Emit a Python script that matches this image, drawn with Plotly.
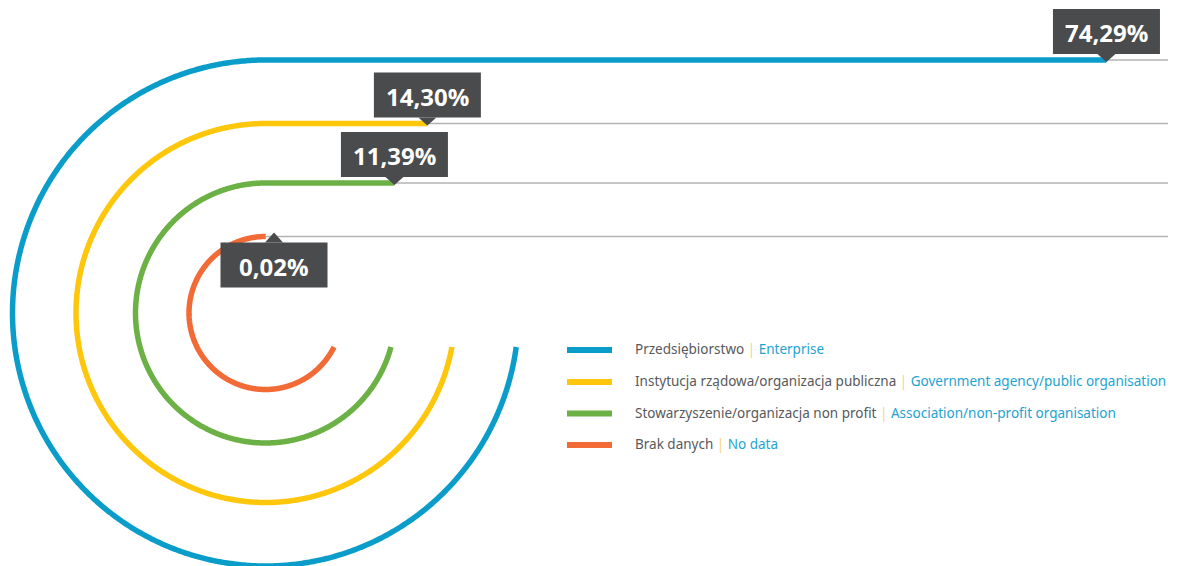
import numpy as np
import plotly.graph_objects as go

# data ---------------------------------------------------------------------
categories_pl = ["Przedsiębiorstwo", "Instytucja rządowa/organizacja publiczna",
                 "Stowarzyszenie/organizacja non profit", "Brak danych"]
categories_en = ["Enterprise", "Government agency/public organisation",
                 "Association/non-profit organisation", "No data"]
values = [74.29, 14.30, 11.39, 0.02]
labels = ["74,29%", "14,30%", "11,39%", "0,02%"]
colors = ["#0a9dca", "#fec70b", "#6cb145", "#f26a36"]

# geometry (pixels) --------------------------------------------------------
W, H = 1180, 566
CX, CY = 265.5, 313
RADII = [253, 189.5, 130, 76.5]
ARC_CUT_Y = 347           # arcs begin where they cross this line on the right
PX_PER_PCT = 11.32        # length of horizontal run per percent
GRID_END = 1168
BOX_W, BOX_H, GAP = 107, 45, 6
BOX_COLOR = "#4a4b4d"

fig = go.Figure()

# thin gray guide lines first
for r in RADII:
    y = CY - r
    fig.add_trace(go.Scatter(x=[CX, GRID_END], y=[y, y], mode="lines",
                             line=dict(color="#b3b3b3", width=1.5),
                             hoverinfo="skip", showlegend=False))

# arcs + horizontal runs
for r, v, c in zip(RADII, values, colors):
    t0 = np.arcsin((ARC_CUT_Y - CY) / r)
    t = np.linspace(t0, 1.5 * np.pi, 600)
    xs = CX + r * np.cos(t)
    ys = CY + r * np.sin(t)
    x_end = CX + v * PX_PER_PCT
    xs = np.append(xs, x_end)
    ys = np.append(ys, CY - r)
    fig.add_trace(go.Scatter(x=xs, y=ys, mode="lines",
                             line=dict(color=c, width=5.5, simplify=False),
                             hoverinfo="skip", showlegend=False))

# value boxes with pointers
shapes = []
annotations = []
for i, (r, v, lab) in enumerate(zip(RADII, values, labels)):
    line_y = CY - r
    px = max(CX + v * PX_PER_PCT, CX + 8.5)
    below = i == len(values) - 1      # the tiny one sits under its line
    if below:
        top = line_y + GAP
        ybox0, ybox1 = top, top + BOX_H
        tri = f"M {px-9},{top} L {px},{line_y-4} L {px+9},{top} Z"
    else:
        bot = line_y - GAP
        ybox0, ybox1 = bot - BOX_H, bot
        tri = f"M {px-9},{bot} L {px},{line_y+2} L {px+9},{bot} Z"
    shapes.append(dict(type="rect", x0=px - BOX_W / 2, x1=px + BOX_W / 2,
                       y0=ybox0, y1=ybox1, xref="x", yref="y",
                       fillcolor=BOX_COLOR, line=dict(width=0), layer="above"))
    shapes.append(dict(type="path", path=tri, xref="x", yref="y",
                       fillcolor=BOX_COLOR, line=dict(width=0), layer="above"))
    annotations.append(dict(x=px, y=(ybox0 + ybox1) / 2 + 1, xref="x", yref="y",
                            text=f"<b>{lab}</b>", showarrow=False,
                            xanchor="center", yanchor="middle",
                            font=dict(family="Open Sans", size=24, color="white")))

# legend
LEG_X0, LEG_X1, LEG_TEXT_X = 567, 612, 633
LEG_Y = [350, 382, 413.5, 445]
for y, c, pl, en in zip(LEG_Y, colors, categories_pl, categories_en):
    shapes.append(dict(type="line", x0=LEG_X0, x1=LEG_X1, y0=y, y1=y,
                       xref="x", yref="y", line=dict(color=c, width=6)))
    txt = (f"<span style='color:#58595b'>{pl}</span>"
           f"<span style='color:#fcd27a'> | </span>"
           f"<span style='color:#1ea3d1'>{en}</span>")
    annotations.append(dict(x=LEG_TEXT_X, y=y - 1, xref="x", yref="y", text=txt,
                            showarrow=False, xanchor="left", yanchor="middle",
                            font=dict(family="Noto Sans", size=13.5)))

fig.update_layout(
    width=W, height=H, autosize=False,
    margin=dict(l=0, r=0, t=0, b=0),
    plot_bgcolor="white", paper_bgcolor="white",
    xaxis=dict(range=[0, W], visible=False, fixedrange=True),
    yaxis=dict(range=[H, 0], visible=False, fixedrange=True),
    shapes=shapes, annotations=annotations,
)

# drop the browser's default body margin so the figure fills the window
fig.write_html("out.html", config={"displayModeBar": False},
               post_script="document.body.style.margin='0';")
